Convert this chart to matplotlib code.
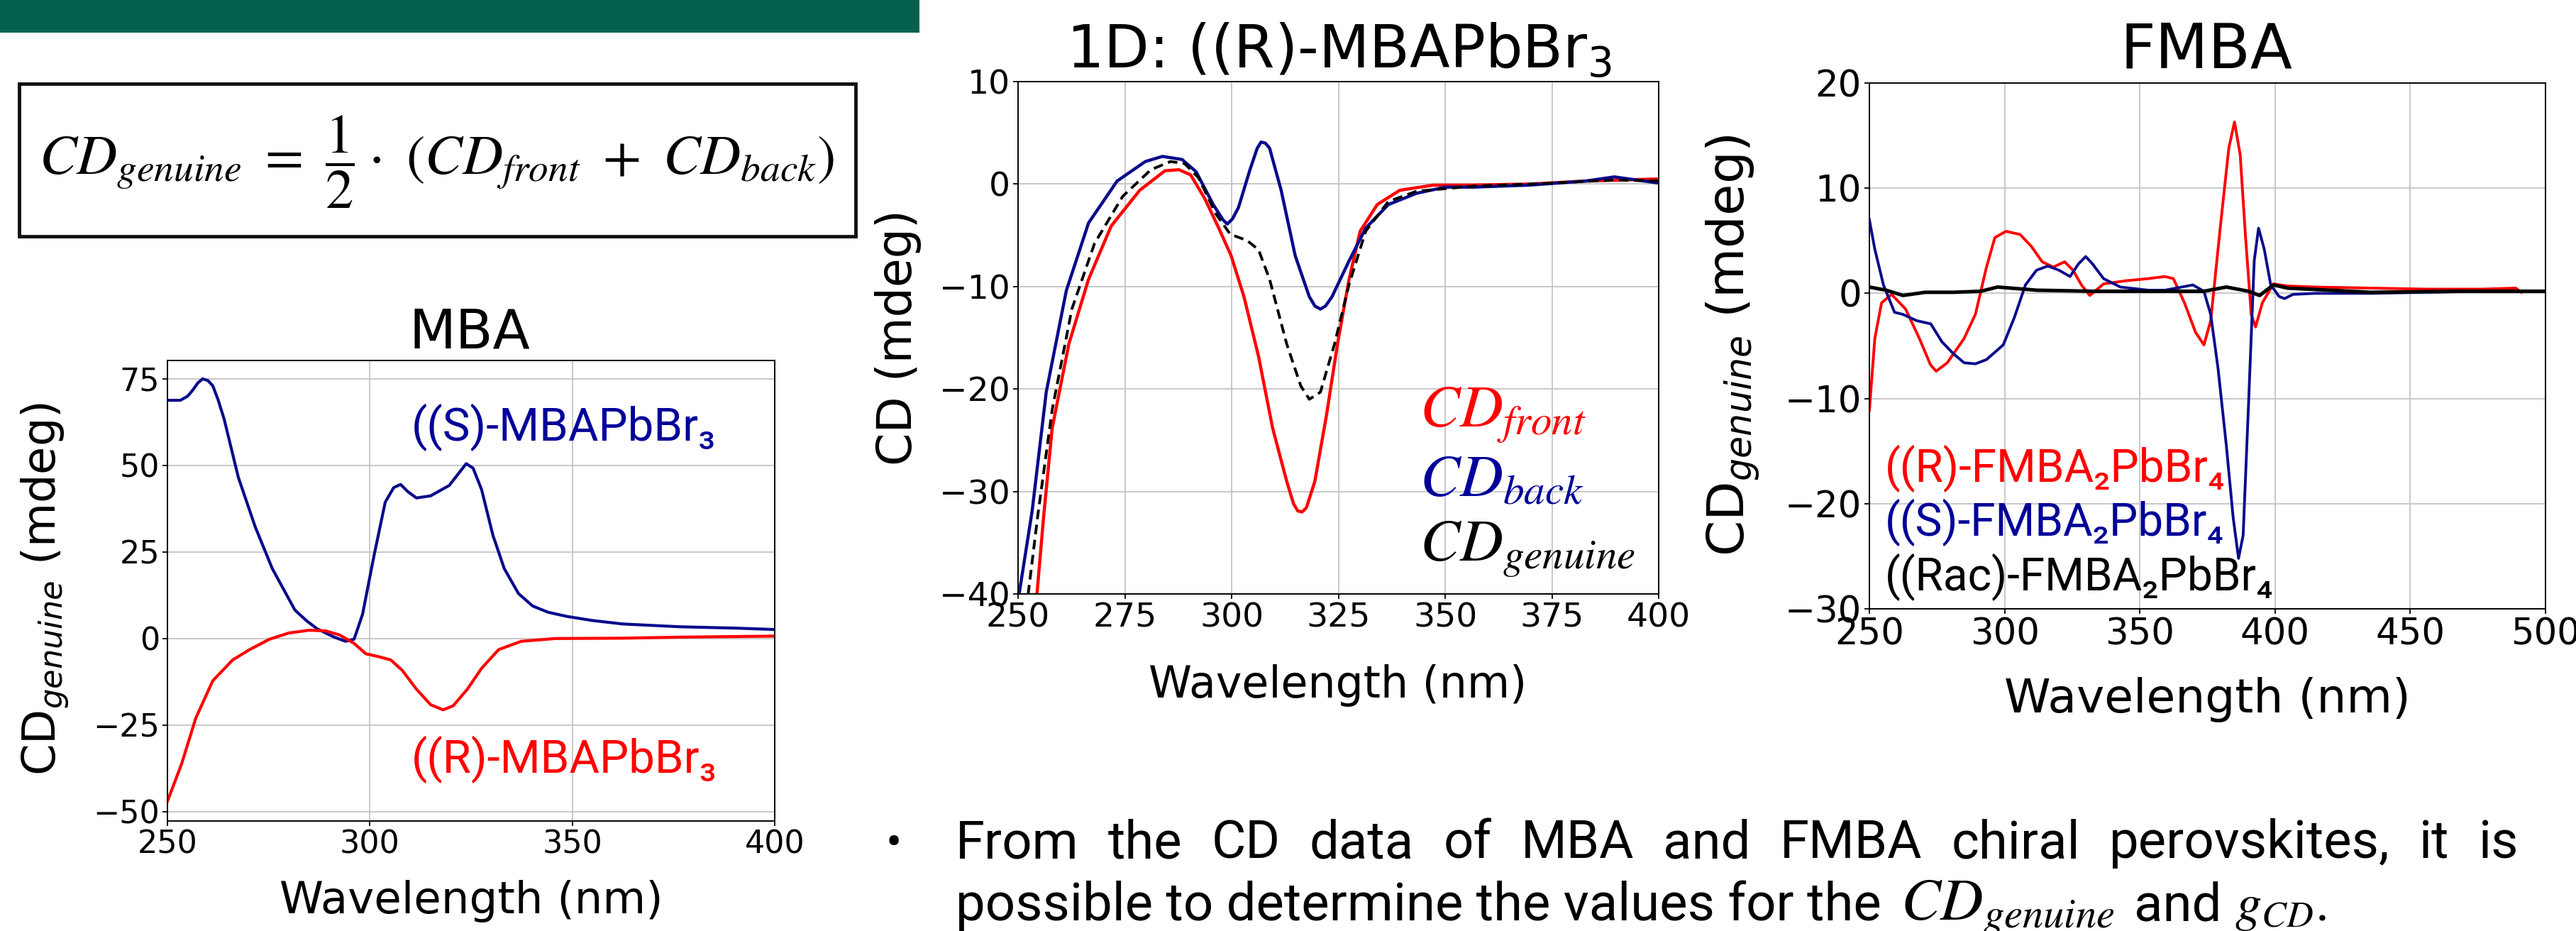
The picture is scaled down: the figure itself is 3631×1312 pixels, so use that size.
import matplotlib
matplotlib.use('Agg')
import matplotlib.pyplot as plt
from matplotlib.patches import Rectangle

# ---------------- data ----------------
# MBA panel
mba_s_wl = [250, 253.2, 255, 256.3, 257.5, 258.7, 260, 261.2, 262.5, 264, 267.5, 271.7, 275.9, 281.5,
            284.5, 287, 291.2, 294, 296.1, 298.2, 301, 303.8, 305.9, 307.6, 309.4, 311.5, 315, 319.6,
            322, 323.8, 325.5, 327.6, 330.4, 333.2, 336.7, 340.2, 344, 348.6, 355, 362.5, 376.5,
            390.5, 400]
mba_s_cd = [68.8, 68.8, 70, 71.8, 73.8, 75, 74.5, 73, 69, 63.4, 46.6, 32.2, 20.2, 8.2,
            5, 2.8, 0.4, -0.8, -0.2, 7, 23.8, 39.4, 43.6, 44.5, 42.4, 40.6, 41.2, 44.2,
            47.8, 50.5, 49.2, 43, 29.8, 20.2, 13, 9.4, 7.6, 6.4, 5.2, 4.2, 3.4,
            3.0, 2.6]
mba_r_wl = [250, 253.5, 257, 261.2, 266.1, 270.3, 275.2, 280, 285, 289.1, 292.6, 296.1, 299, 302.4,
            305.2, 308, 311.5, 315, 318.1, 320.6, 324.1, 327.6, 331.8, 337.4, 345.8, 362.5, 376.5, 400]
mba_r_cd = [-47, -36.2, -23, -12.2, -6.2, -3.2, -0.2, 1.6, 2.4, 2.2, 1, -1.4, -4.4, -5.3,
            -6.2, -9.2, -14.6, -19.1, -20.6, -19.4, -14.6, -8.6, -3.2, -0.8, 0, 0.1, 0.4, 0.7]

# 1D (R)-MBAPbBr3 panel
front_wl = [253.6, 256, 258, 261.9, 266.5, 271.8, 278.5, 284.4, 287.7, 290.4, 293.7, 297, 299.9, 302.9,
            306.3, 309.6, 312.9, 314.5, 315.5, 316.5, 317.5, 319.5, 322.2, 324.8, 327.5, 330.1, 334.1,
            339.4, 347.3, 356.6, 369.8, 383, 400]
front_cd = [-44, -32.4, -23.8, -15.6, -9.3, -4.1, -0.6, 1.3, 1.4, 0.9, -1.4, -4.3, -7, -11,
            -16.8, -23.8, -29, -31.2, -31.9, -32, -31.6, -29, -22.6, -15.6, -9.3, -4.6, -2,
            -0.6, -0.1, -0.1, 0, 0.3, 0.5]
back_wl = [249.5, 253.3, 256.6, 261.3, 266.5, 273.2, 279.8, 283.8, 288.4, 291.7, 295.7, 298, 299, 300.2,
           301.6, 304.3, 306, 306.9, 307.9, 308.9, 311.6, 314.9, 318.2, 319.5, 320.8, 322, 323.5,
           327.5, 331.4, 336.7, 343.3, 350, 356.6, 369.8, 383, 389.6, 400]
back_cd = [-42, -31.9, -20.3, -10.4, -3.8, 0.3, 2.2, 2.7, 2.4, 1.2, -2, -3.5, -3.9, -3.4,
           -2.3, 1.4, 3.5, 4.1, 4.0, 3.5, -0.6, -7, -11, -11.9, -12.2, -11.9, -11,
           -7.5, -4.3, -2, -0.9, -0.3, -0.3, -0.1, 0.3, 0.7, 0.1]
gen_wl = [251.5, 254.6, 258, 262.6, 267.9, 274.5, 281.1, 285.7, 289, 292.3, 296.3, 299.7, 303.6, 306.3,
          308.9, 312.9, 316.2, 318.2, 320.8, 324.1, 327.5, 331.4, 336.7, 343.3, 356.6, 369.8, 389.6, 400]
gen_cd = [-43, -32.4, -22, -12.2, -5.8, -1.2, 1.4, 2.2, 2, 0.6, -2.9, -4.9, -5.5, -6.4,
          -9.3, -15.6, -19.7, -21, -20.3, -15.6, -9.8, -4.6, -1.7, -0.7, -0.2, 0, 0.4, 0.3]

# FMBA panel
fr_wl = [250, 252, 254.5, 258.2, 263.4, 268.5, 272.6, 274.7, 278.8, 285, 289.2, 293.3, 296.4, 300.5,
         305.7, 309.8, 313.9, 318, 322.2, 325.3, 328.4, 331.5, 336.6, 344.9, 353.1, 359.3, 362.4,
         366.5, 370.6, 373.7, 376.2, 379.8, 382.9, 385, 387.1, 389.1, 391.2, 392.8, 395.3, 399.4,
         404.6, 414.9, 435.5, 456.1, 476.7, 489, 491.1]
fr_cd = [-11.1, -4.3, -0.9, -0.1, -1.5, -4.3, -6.8, -7.4, -6.6, -4.3, -2, 2.5, 5.3, 5.9,
         5.6, 4.5, 3, 2.5, 3, 2.2, 0.8, -0.2, 0.9, 1.2, 1.4, 1.6, 1.4,
         -0.9, -3.7, -4.9, -2.6, 6.4, 13.8, 16.3, 13.2, 5.3, -2, -3.2, -0.9, 0.9,
         0.7, 0.6, 0.5, 0.4, 0.4, 0.5, 0.1]
fs_wl = [250, 252, 255.2, 259.3, 262.4, 267.5, 272.7, 276.8, 280.9, 285, 289.2, 293.3, 299.5, 303.6,
         307.7, 311.8, 316, 320.1, 324.2, 327.3, 330, 332.5, 336.6, 342.8, 353.1, 359.3, 365.5,
         369.6, 373.7, 376.2, 378.9, 382, 384.5, 386.5, 388.2, 390.2, 392.3, 393.9, 396, 398.4,
         401.5, 403.5, 406.6, 414.9, 435.5, 456.1, 476.7, 491.1, 500]
fs_cd = [7, 4.2, 0.8, -1.8, -2, -2.6, -2.9, -4.6, -5.7, -6.6, -6.7, -6.3, -4.9, -2.3,
         0.8, 2.2, 2.6, 2.2, 1.6, 2.8, 3.5, 2.8, 1.4, 0.6, 0.3, 0.3, 0.6,
         0.8, 0.2, -2, -7.1, -14.5, -21.3, -25.2, -23, -10.5, 3.1, 6.2, 4.2, 0.8,
         -0.3, -0.5, -0.1, 0, 0, 0.1, 0.2, 0.2, 0.2]
frac_wl = [250, 256.2, 262.4, 270.6, 280.9, 291.2, 297.4, 311.8, 332.5, 353.1, 373.7, 382, 390.2,
           394.3, 399.4, 404.6, 435.5, 466.4, 500]
frac_cd = [0.6, 0.3, -0.2, 0.1, 0.1, 0.2, 0.6, 0.3, 0.2, 0.2, 0.2, 0.6, 0.2,
           -0.2, 0.8, 0.5, 0.1, 0.2, 0.2]

mba_xticks = [250, 300, 350, 400]
mba_yticks = [-50, -25, 0, 25, 50, 75]
mid_xticks = [250, 275, 300, 325, 350, 375, 400]
mid_yticks = [-40, -30, -20, -10, 0, 10]
fm_xticks = [250, 300, 350, 400, 450, 500]
fm_yticks = [-30, -20, -10, 0, 10, 20]

# ---------------- styling ----------------
RED = '#ff0000'
BLUE = '#0a0a8c'
TBLUE = '#000099'
GREEN = '#03604f'
ROB = ['Roboto', 'Noto Sans', 'DejaVu Sans']

W, H = 3631, 1312
fig = plt.figure(figsize=(W / 100, H / 100), dpi=100)


def fx(x):
    return x / W


def fy(y):
    return 1 - y / H


def make_axes(l, t, r, b):
    return fig.add_axes([fx(l), fy(b), (r - l) / W, (b - t) / H])


def style(ax, xlim, ylim, xt, yt, lsize):
    ax.set_xlim(*xlim)
    ax.set_ylim(*ylim)
    ax.set_xticks(xt)
    ax.set_yticks(yt)
    ax.grid(True, color='#c4c4c4', lw=1.3)
    ax.set_axisbelow(True)
    ax.tick_params(labelsize=lsize, length=5, width=1.3, pad=3)
    for s in ax.spines.values():
        s.set_linewidth(1.4)


# banner and formula box
fig.patches.append(Rectangle((0, fy(46)), fx(1296), 46 / H, transform=fig.transFigure,
                             facecolor=GREEN, edgecolor='none', zorder=0))
fig.patches.append(Rectangle((fx(27), fy(333)), (1206 - 27) / W, (333 - 118) / H,
                             transform=fig.transFigure, fill=False, edgecolor='#111111',
                             lw=3.5, zorder=1))
formula = fig.text(fx(616), fy(228),
                   r'$CD_{genuine}\ =\ \dfrac{1}{2}\cdot\ (CD_{front}\ +\ CD_{back})$',
                   math_fontfamily='stix', ha='center', va='center', fontsize=44)

# ---- MBA panel ----
ax1 = make_axes(236, 508, 1092, 1157)
ax1.plot(mba_s_wl, mba_s_cd, color=BLUE, lw=3.0, solid_joinstyle='round')
ax1.plot(mba_r_wl, mba_r_cd, color=RED, lw=3.0, solid_joinstyle='round')
style(ax1, (250, 400), (-52.7, 80.3), mba_xticks, mba_yticks, 32)
t_mba = fig.text(fx(662), fy(490), 'MBA', ha='center', va='baseline', fontsize=55)
xl1 = fig.text(fx(664), fy(1287), 'Wavelength (nm)', ha='center', va='baseline', fontsize=45)
yl1 = fig.text(fx(64), fy(830), r'CD$_{genuine}$ (mdeg)', ha='center', va='center',
               rotation=90, fontsize=46)
fig.text(fx(580), fy(621), '((S)-MBAPbBr₃', color=TBLUE, family=ROB, ha='left',
         va='baseline', fontsize=47)
fig.text(fx(580), fy(1089), '((R)-MBAPbBr₃', color=RED, family=ROB, ha='left',
         va='baseline', fontsize=47)

# ---- 1D (R)-MBAPbBr3 panel ----
ax2 = make_axes(1435, 115, 2338, 837)
ax2.plot(front_wl, front_cd, color=RED, lw=3.2, solid_joinstyle='round')
ax2.plot(back_wl, back_cd, color=BLUE, lw=3.2, solid_joinstyle='round')
ax2.plot(gen_wl, gen_cd, color='black', lw=2.8, ls=(0, (3.5, 2.0)))
style(ax2, (250, 400), (-40, 10), mid_xticks, mid_yticks, 34)
t_mid = fig.text(fx(1887), fy(96), r'1D: ((R)-MBAPbBr$_3$', ha='center', va='baseline',
                 fontsize=57)
xl2 = fig.text(fx(1886), fy(983), 'Wavelength (nm)', ha='center', va='baseline', fontsize=44)
yl2 = fig.text(fx(1266), fy(476), 'CD (mdeg)', ha='center', va='center', rotation=90,
               fontsize=48)
leg_front = fig.text(fx(2001), fy(602), r'$CD_{front}$', color=RED, math_fontfamily='stix',
                     ha='left', va='baseline', fontsize=60)
leg_back = fig.text(fx(2001), fy(699), r'$CD_{back}$', color=TBLUE, math_fontfamily='stix',
                    ha='left', va='baseline', fontsize=60)
leg_gen = fig.text(fx(2001), fy(791), r'$CD_{genuine}$', color='black', math_fontfamily='stix',
                   ha='left', va='baseline', fontsize=60)

# ---- FMBA panel ----
ax3 = make_axes(2635, 117, 3588, 858)
ax3.plot(fr_wl, fr_cd, color=RED, lw=2.8, solid_joinstyle='round')
ax3.plot(fs_wl, fs_cd, color=BLUE, lw=2.8, solid_joinstyle='round')
ax3.plot(frac_wl, frac_cd, color='black', lw=3.6)
style(ax3, (250, 500), (-30, 20), fm_xticks, fm_yticks, 37)
t_fm = fig.text(fx(3110), fy(96), 'FMBA', ha='center', va='baseline', fontsize=62)
xl3 = fig.text(fx(3111), fy(1004), 'Wavelength (nm)', ha='center', va='baseline', fontsize=47)
yl3 = fig.text(fx(2443), fy(487), r'CD$_{genuine}$ (mdeg)', ha='center', va='center',
               rotation=90, fontsize=52)
fig.text(fx(2657), fy(679), '((R)-FMBA₂PbBr₄', color=RED, family=ROB, ha='left',
         va='baseline', fontsize=46)
fig.text(fx(2657), fy(755), '((S)-FMBA₂PbBr₄', color=TBLUE, family=ROB, ha='left',
         va='baseline', fontsize=46)
fig.text(fx(2657), fy(832), '((Rac)-FMBA₂PbBr₄', color='black', family=ROB, ha='left',
         va='baseline', fontsize=46)

# ---- bullet text ----
fig.text(fx(1260), fy(1209), '•', family=ROB, ha='center', va='baseline', fontsize=48)
line1 = 'From the CD data of MBA and FMBA chiral perovskites, it is'.split()
w_objs = [fig.text(fx(1347), fy(1209), w, family=ROB, ha='left', va='baseline', fontsize=48)
          for w in line1]
seg1 = fig.text(fx(1347), fy(1297), 'possible to determine the values for the',
                family=ROB, ha='left', va='baseline', fontsize=48)
seg2 = fig.text(fx(2679), fy(1297), r'$CD_{genuine}$', math_fontfamily='stix',
                ha='left', va='baseline', fontsize=48)
seg3 = fig.text(fx(3008), fy(1297), 'and', family=ROB, ha='left', va='baseline', fontsize=48)
seg4 = fig.text(fx(3150), fy(1297), r'$g_{CD}$.', family=ROB, math_fontfamily='stix',
                ha='left', va='baseline', fontsize=48)

# ---- fit sizes / justify using the renderer ----
fig.canvas.draw()
rend = fig.canvas.get_renderer()


def fit(t, target, vertical=False):
    bb = t.get_window_extent(renderer=rend)
    cur = bb.height if vertical else bb.width
    t.set_fontsize(t.get_fontsize() * target / cur)


fit(formula, 1123)
fit(t_mba, 171)
fit(t_mid, 769)
fit(t_fm, 243)
fit(xl1, 540)
fit(xl2, 534)
fit(xl3, 573)
fit(leg_front, 235)
fit(seg1, 1304)
fit(seg2, 302)
fit(seg4, 129)

body_fs = seg1.get_fontsize()
seg3.set_fontsize(body_fs)
for t in w_objs:
    t.set_fontsize(body_fs)
fs_leg = leg_front.get_fontsize()
leg_back.set_fontsize(fs_leg)
leg_gen.set_fontsize(fs_leg)

fig.canvas.draw()
widths = [t.get_window_extent(renderer=rend).width for t in w_objs]
x0, x1 = 1347, 3550
gap = (x1 - x0 - sum(widths)) / (len(widths) - 1)
x = x0
for t, w in zip(w_objs, widths):
    t.set_x(fx(x))
    x += w + gap

fig.savefig('out.png', dpi=100)
